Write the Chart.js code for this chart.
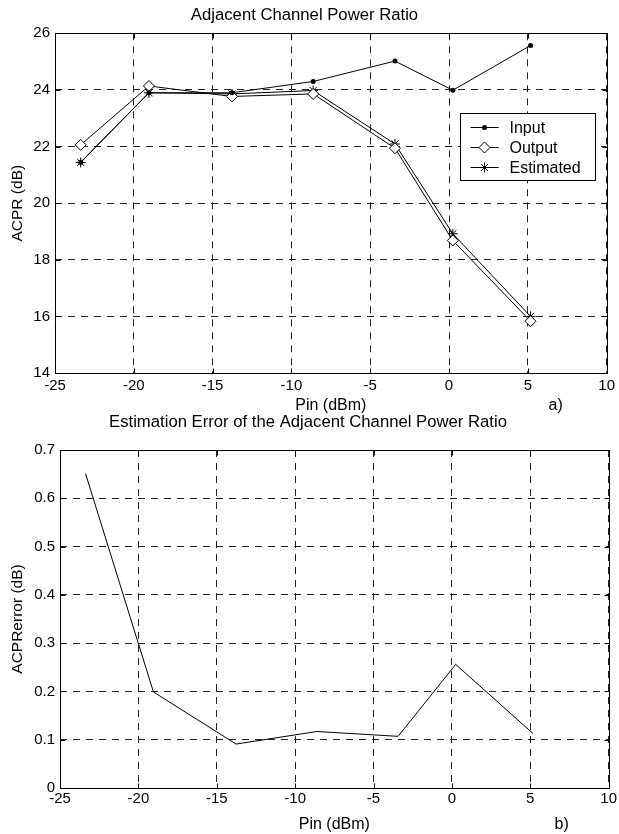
<!DOCTYPE html>
<html>
<head>
<meta charset="utf-8">
<script src="https://cdn.jsdelivr.net/npm/chart.js@4.4.1/dist/chart.umd.min.js"></script>
<style>
    html, body { margin: 0; padding: 0; background: #fff; }
    #wrap { position: relative; width: 619px; height: 834px; overflow: hidden; }
    #topChart { position: absolute; left: 0; top: 0; }
    #bottomChart { position: absolute; left: 0; top: 410px; }
</style>
</head>
<body>
<div id="wrap">
    <canvas id="topChart" width="619" height="420"></canvas>
    <canvas id="bottomChart" width="619" height="424"></canvas>
</div>
<script>
// potenza di ingresso Pin (dBm) delle misure
const pin = [-23.37, -19.04, -13.77, -8.62, -3.43, 0.24, 5.17];
// ACPR (dB) - grafico a)
const acprInput = [21.45, 23.9, 23.9, 24.3, 25.02, 23.99, 25.57];
const acprOutput = [22.06, 24.14, 23.77, 23.86, 21.94, 18.68, 15.83];
const acprEstimated = [21.44, 23.9, 23.86, 23.98, 22.09, 18.92, 16.0];
// errore di stima (dB) - grafico b)
const acprError = [0.651, 0.199, 0.091, 0.117, 0.107, 0.256, 0.113];

const FONT = "'Liberation Sans', Arial, sans-serif";
Chart.defaults.font.family = FONT;
Chart.defaults.color = '#000';
Chart.defaults.animation = false;

function toPoints(ys) {
    return pin.map((x, i) => ({ x: x, y: ys[i] }));
}

// marker disegnati a mano per la legenda
function drawMarker(ctx, style, r, x, y) {
    ctx.beginPath();
    if (style === 'circle') {
        ctx.arc(x, y, r, 0, Math.PI * 2);
        ctx.fillStyle = '#000';
        ctx.fill();
    } else if (style === 'rectRot') {
        ctx.moveTo(x - r, y);
        ctx.lineTo(x, y - r);
        ctx.lineTo(x + r, y);
        ctx.lineTo(x, y + r);
        ctx.closePath();
        ctx.fillStyle = '#fff';
        ctx.fill();
        ctx.stroke();
    } else if (style === 'star') {
        const d = r * Math.SQRT1_2;
        ctx.moveTo(x - r, y); ctx.lineTo(x + r, y);
        ctx.moveTo(x, y - r); ctx.lineTo(x, y + r);
        ctx.moveTo(x - d, y - d); ctx.lineTo(x + d, y + d);
        ctx.moveTo(x - d, y + d); ctx.lineTo(x + d, y - d);
        ctx.stroke();
    }
}

// cornice nera e tacche interne (stile matlab) + etichetta a) / b)
const framePlugin = {
    id: 'frame',
    afterDatasetsDraw(chart) {
        const { ctx, chartArea: a, scales } = chart;
        const L = Math.round(a.left) + 0.5, R = Math.round(a.right) + 0.5;
        const T = Math.round(a.top) + 0.5, B = Math.round(a.bottom) + 0.5;
        ctx.save();
        ctx.setLineDash([]);
        ctx.strokeStyle = '#000';
        ctx.lineWidth = 1;
        ctx.strokeRect(L, T, R - L, B - T);
        const t = 5;
        ctx.beginPath();
        scales.x.ticks.forEach(tk => {
            const px = Math.round(scales.x.getPixelForValue(tk.value)) + 0.5;
            ctx.moveTo(px, B); ctx.lineTo(px, B - t);
            ctx.moveTo(px, T); ctx.lineTo(px, T + t);
        });
        scales.y.ticks.forEach(tk => {
            const py = Math.round(scales.y.getPixelForValue(tk.value)) + 0.5;
            ctx.moveTo(L, py); ctx.lineTo(L + t, py);
            ctx.moveTo(R, py); ctx.lineTo(R - t, py);
        });
        ctx.stroke();

        const tag = chart.options.plugins.panelTag;
        if (tag) {
            ctx.font = '16px ' + FONT;
            ctx.fillStyle = '#000';
            ctx.textAlign = 'center';
            ctx.textBaseline = 'middle';
            ctx.fillText(tag.text, a.right + tag.dx, tag.y);
        }
        ctx.restore();
    }
};

// legenda dentro l'area del grafico (solo grafico a)
const legendBox = {
    id: 'legendBox',
    afterDraw(chart) {
        if (!chart.options.plugins.legendBox) return;
        const { ctx, chartArea: a } = chart;
        const w = 135, h = 67;
        const x0 = Math.round(a.right - 12 - w) + 0.5;
        const y0 = Math.round(a.top + 80) + 0.5;
        ctx.save();
        ctx.setLineDash([]);
        ctx.fillStyle = '#fff';
        ctx.fillRect(x0, y0, w, h);
        ctx.strokeStyle = '#000';
        ctx.lineWidth = 1;
        ctx.strokeRect(x0, y0, w, h);
        ctx.font = '16px ' + FONT;
        ctx.textBaseline = 'middle';
        chart.data.datasets.forEach((ds, i) => {
            const y = Math.round(y0 + 13.5 + i * 20) + 0.5;
            ctx.beginPath();
            ctx.moveTo(x0 + 10, y);
            ctx.lineTo(x0 + 38, y);
            ctx.stroke();
            drawMarker(ctx, ds.pointStyle, ds.pointRadius, x0 + 24, y);
            ctx.fillStyle = '#000';
            ctx.fillText(ds.label, x0 + 49, y + 1);
        });
        ctx.restore();
    }
};

function axisX(xHeight, tickPad, titlePad) {
    return {
        type: 'linear',
        min: -25,
        max: 10,
        ticks: { stepSize: 5, padding: tickPad, font: { size: 15 }, color: '#000' },
        grid: { color: '#222', lineWidth: 1, drawTicks: false },
        border: { display: false, dash: [7, 6] },
        title: { display: true, text: 'Pin (dBm)', font: { size: 16 }, padding: { top: 0, bottom: titlePad }, color: '#000' },
        afterFit: (scale) => { scale.height = xHeight; }
    };
}

const topChart = new Chart(document.getElementById('topChart').getContext('2d'), {
    type: 'line',
    data: {
        datasets: [
            {
                label: 'Input',
                data: toPoints(acprInput),
                borderColor: '#000',
                backgroundColor: '#000',
                borderWidth: 1,
                pointStyle: 'circle',
                pointRadius: 2.5,
                pointBorderWidth: 0,
                pointBackgroundColor: '#000',
            },
            {
                label: 'Output',
                data: toPoints(acprOutput),
                borderColor: '#000',
                borderWidth: 1,
                pointStyle: 'rectRot',
                pointRadius: 5.5,
                pointBorderWidth: 1,
                pointBackgroundColor: '#fff',
                pointBorderColor: '#000',
            },
            {
                label: 'Estimated',
                data: toPoints(acprEstimated),
                borderColor: '#000',
                borderWidth: 1,
                pointStyle: 'star',
                pointRadius: 5,
                pointBorderWidth: 1,
                pointBorderColor: '#000',
            }
        ]
    },
    options: {
        responsive: false,
        layout: { padding: { left: 0, right: 10, top: 0, bottom: 0 } },
        scales: {
            x: axisX(47, 4, 5),
            y: {
                type: 'linear',
                min: 14,
                max: 26,
                ticks: { stepSize: 2, padding: 5, font: { size: 15 }, color: '#000' },
                grid: { color: '#222', lineWidth: 1, drawTicks: false },
                border: { display: false, dash: [7, 6] },
                title: { display: true, text: 'ACPR (dB)', font: { size: 15.5 }, padding: { top: 8, bottom: 0 }, color: '#000' },
                afterFit: (scale) => { scale.width = 55; }
            }
        },
        plugins: {
            legend: { display: false },
            tooltip: { enabled: false },
            title: {
                display: true,
                text: 'Adjacent Channel Power Ratio',
                font: { size: 16.7, weight: 'normal' },
                color: '#000',
                padding: { top: 5, bottom: 8.3 }
            },
            panelTag: { text: 'a)', dx: -51, y: 406 },
            legendBox: true
        }
    },
    plugins: [framePlugin, legendBox]
});

const bottomChart = new Chart(document.getElementById('bottomChart').getContext('2d'), {
    type: 'line',
    data: {
        datasets: [
            {
                label: 'ACPRerror',
                data: toPoints(acprError),
                borderColor: '#000',
                borderWidth: 1,
                pointRadius: 0,
            }
        ]
    },
    options: {
        responsive: false,
        layout: { padding: { left: 0, right: 3, top: 0, bottom: 0 } },
        scales: {
            x: axisX(46, 2, 0),
            y: {
                type: 'linear',
                min: 0,
                max: 0.7,
                ticks: {
                    stepSize: 0.1,
                    padding: 5,
                    font: { size: 15 },
                    color: '#000',
                    callback: (v) => String(+v.toFixed(1))
                },
                grid: { color: '#222', lineWidth: 1, drawTicks: false },
                border: { display: false, dash: [7, 6] },
                title: { display: true, text: 'ACPRerror (dB)', font: { size: 15.5 }, padding: { top: 8, bottom: 0 }, color: '#000' },
                afterFit: (scale) => { scale.width = 60; }
            }
        },
        plugins: {
            legend: { display: false },
            tooltip: { enabled: false },
            title: {
                display: true,
                text: 'Estimation Error of the Adjacent Channel Power Ratio',
                font: { size: 16.7, weight: 'normal' },
                color: '#000',
                padding: { top: 2, bottom: 18 }
            },
            panelTag: { text: 'b)', dx: -47, y: 415 }
        }
    },
    plugins: [framePlugin]
});
</script>
</body>
</html>
